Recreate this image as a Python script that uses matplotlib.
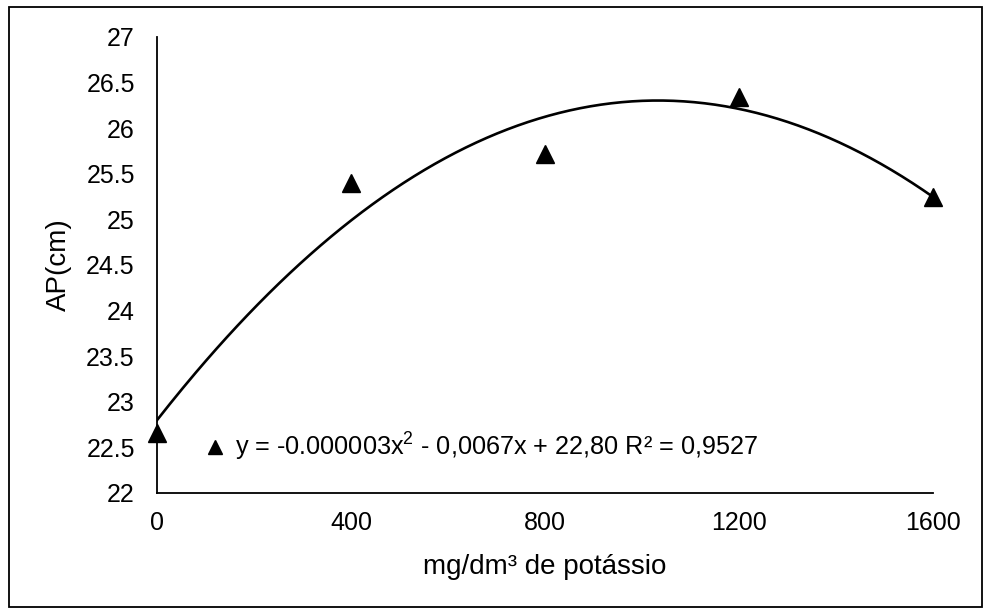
import numpy as np
import matplotlib
matplotlib.use("Agg")
import matplotlib.pyplot as plt
from matplotlib.patches import Rectangle

plt.rcParams['font.family'] = ['Liberation Sans', 'DejaVu Sans']
plt.rcParams['mathtext.fontset'] = 'custom'
plt.rcParams['mathtext.rm'] = 'Liberation Sans'
plt.rcParams['mathtext.it'] = 'Liberation Sans'

# data
doses = [0, 400, 800, 1200, 1600]
ap_cm = [22.66, 25.40, 25.72, 26.34, 25.25]
x_ticks = [0, 400, 800, 1200, 1600]
y_ticks = [22, 22.5, 23, 23.5, 24, 24.5, 25, 25.5, 26, 26.5, 27]
y_tick_labels = ['22', '22.5', '23', '23.5', '24', '24.5', '25', '25.5', '26', '26.5', '27']
equation = r"y = -0.000003x$^{2}$ - 0,0067x + 22,80 R² = 0,9527"
x_label = "mg/dm³ de potássio"
y_label = "AP(cm)"

fig = plt.figure(figsize=(9.84, 6.08), dpi=100)
fig.patches.append(Rectangle((9/984, 0.001), 1 - 9/984 - 0.002, 1 - 7/608 - 0.001,
                             transform=fig.transFigure, fill=False,
                             edgecolor='black', linewidth=1.3))
ax = fig.add_axes([157/984, 1 - 493/608, (933 - 157)/984, (493 - 37)/608])

# quadratic trend line fitted to the data
coef = np.polyfit(doses, ap_cm, 2)
xs = np.linspace(min(doses), max(doses), 300)
ax.plot(xs, np.polyval(coef, xs), color='black', linewidth=1.9, zorder=2)
ax.plot(doses, ap_cm, linestyle='none', marker='^', markersize=13.5,
        color='black', label=equation, zorder=3, clip_on=False)

ax.set_xlim(0, 1600)
ax.set_ylim(22, 27)
ax.set_xticks(x_ticks)
ax.set_yticks(y_ticks)
ax.set_yticklabels(y_tick_labels)
ax.tick_params(axis='both', length=0, labelsize=18)
ax.tick_params(axis='y', pad=16)
ax.tick_params(axis='x', pad=13)
for s in ['top', 'right']:
    ax.spines[s].set_visible(False)
for s in ['left', 'bottom']:
    ax.spines[s].set_linewidth(1.3)

ax.set_xlabel(x_label, fontsize=20, labelpad=14)
ax.set_ylabel(y_label, fontsize=20, labelpad=10)

leg = ax.legend(loc='center left', bbox_to_anchor=(0.065, 0.1), frameon=False,
                fontsize=18.2, handlelength=0.6, handletextpad=0.5, markerscale=0.78,
                borderpad=0, borderaxespad=0)

fig.savefig("out.png", dpi=100)
